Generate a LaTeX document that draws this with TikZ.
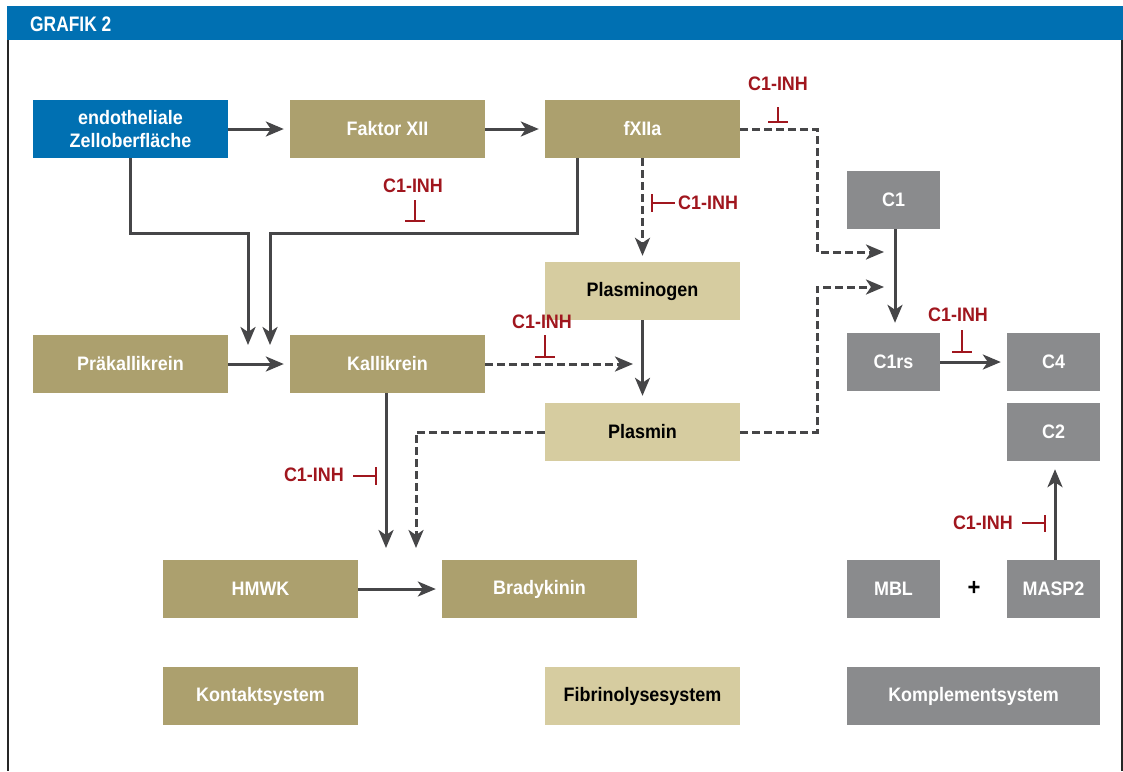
\documentclass[tikz,border=0pt]{standalone}
\usepackage{fontspec}
\setmainfont{Liberation Sans}[FakeStretch=0.92]
\usetikzlibrary{arrows.meta}
\definecolor{hdrblue}{RGB}{0,112,178}
\definecolor{tandark}{RGB}{172,160,110}
\definecolor{tanlight}{RGB}{214,204,160}
\definecolor{greybox}{RGB}{138,139,141}
\definecolor{inhred}{RGB}{160,22,30}
\definecolor{arrowc}{RGB}{70,70,72}
\tikzset{
  box/.style={rectangle, inner sep=0pt, minimum width=195pt, minimum height=58pt,
    font=\bfseries\fontsize{19.5}{22.5}\selectfont, align=center},
  kbox/.style={box, fill=tandark, text=white},
  fbox/.style={box, fill=tanlight, text=black},
  gbox/.style={box, fill=greybox, text=white, minimum width=93pt},
  bbox/.style={box, fill=hdrblue, text=white},
  arr/.style={draw=arrowc, line width=3pt, -{Stealth[length=18pt,width=15pt,inset=5pt]}},
  darr/.style={arr, dash pattern=on 8pt off 4pt},
  inh/.style={draw=inhred, line width=1.8pt},
  inhlab/.style={text=inhred, inner sep=0pt, font=\bfseries\fontsize{19.5}{22}\selectfont}
}
\begin{document}
\begin{tikzpicture}[x=1pt,y=-1pt]
\useasboundingbox (0,0) rectangle (1123,771);
% frame
\fill[hdrblue] (7,6) rectangle (1123,40);
\node[anchor=west, text=white, inner sep=0pt, font=\bfseries\fontsize{21}{22}\selectfont] (title) at (30,24) {\scalebox{0.9}[1]{GRAFIK 2}};
\draw[line width=2pt, black!85] (8,40) -- (8,771);
\draw[line width=1.6pt, black!85] (1122,40) -- (1122,771);
% nodes
\node[bbox] (endo) at (130.5,129) {endotheliale\\Zelloberfläche};
\node[kbox] (fxii) at (387.5,129) {Faktor XII};
\node[kbox] (fxiia) at (642.5,129) {fXIIa};
\node[gbox] (c1) at (893.5,200) {C1};
\node[fbox] (plg) at (642.5,291) {Plasminogen};
\node[kbox] (prk) at (130.5,364) {Präkallikrein};
\node[kbox] (kal) at (387.5,364) {Kallikrein};
\node[gbox] (c1rs) at (893.5,362) {C1rs};
\node[gbox] (c4) at (1053.5,362) {C4};
\node[fbox] (pls) at (642.5,432) {Plasmin};
\node[gbox] (c2) at (1053.5,432) {C2};
\node[kbox] (hmwk) at (260.5,589) {HMWK};
\node[kbox] (brady) at (539.5,589) {Bradykinin};
\node[gbox] (mbl) at (893.5,589) {MBL};
\node[font=\bfseries\fontsize{24}{24}\selectfont, inner sep=0pt] (plus) at (974,588) {+};
\node[gbox] (masp) at (1053.5,589) {MASP2};
\node[kbox] (kon) at (260.5,696) {Kontaktsystem};
\node[fbox] (fib) at (642.5,696) {Fibrinolysesystem};
\node[gbox, minimum width=253pt] (kom) at (973.5,696) {Komplementsystem};
% free ends
\coordinate (k1) at (248,345);
\coordinate (k2) at (270,345);
\coordinate (kd) at (633,364);
\coordinate (c1a) at (884,252);
\coordinate (c1b) at (884,287);
\coordinate (b1) at (386,548);
\coordinate (b2) at (416,548);
% connectors
\draw[arr, shorten >=6pt] (endo) -- (fxii);
\draw[arr, shorten >=6pt] (fxii) -- (fxiia);
\draw[arr] (endo.south) -- ++(0,75) -| (k1);
\draw[arr] ([xshift=-65.5pt]fxiia.south) -- ++(0,75) -| (k2);
\draw[arr, shorten >=6pt] (prk) -- (kal);
\draw[darr] (kal.east) -- (kd);
\draw[darr, shorten >=6pt] (fxiia) -- (plg);
\draw[arr, shorten >=7pt] (plg) -- (pls);
\draw[darr] (fxiia.east) -- ++(77,0) |- (c1a);
\draw[darr] (pls.east) -- ++(77,0) |- (c1b);
\draw[arr, shorten >=10pt] ([xshift=1.5pt]c1.south) -- ([xshift=1.5pt]c1rs.north);
\draw[arr, shorten >=6pt] (c1rs) -- (c4);
\draw[arr] ([xshift=-1.5pt]kal.south) -- (b1);
\draw[darr] (pls.west) -| (b2);
\draw[arr, shorten >=6pt] (hmwk) -- (brady);
\draw[arr, shorten >=8pt] ([xshift=1.5pt]masp.north) -- ([xshift=1.5pt]c2.south);
% inhibitors
\node[inhlab] (l1) at (413,186) {C1-INH};
\draw[inh] (415,200) -- (415,221) (405,221) -- (425,221);
\node[inhlab] (l2) at (778,84) {C1-INH};
\draw[inh] (778,107) -- (778,122) (768,122) -- (788,122);
\node[inhlab, anchor=west] (l3) at (678,203) {C1-INH};
\draw[inh] (652,194) -- (652,212) (652,203) -- (675,203);
\node[inhlab] (l4) at (542,322) {C1-INH};
\draw[inh] (545,335) -- (545,357) (535,357) -- (555,357);
\node[inhlab] (l5) at (958,315) {C1-INH};
\draw[inh] (962,330) -- (962,352) (952,352) -- (972,352);
\node[inhlab, anchor=east] (l6) at (344,475) {C1-INH};
\draw[inh] (353,476) -- (376,476) (376,467) -- (376,485);
\node[inhlab, anchor=east] (l7) at (1013,523) {C1-INH};
\draw[inh] (1022,523) -- (1045,523) (1045,515) -- (1045,532);
\end{tikzpicture}
\end{document}
